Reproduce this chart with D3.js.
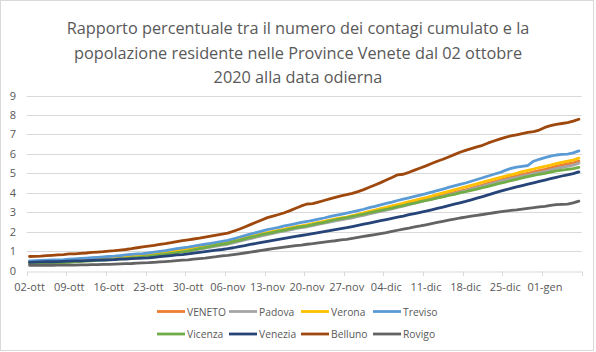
<!DOCTYPE html>
<html><head><meta charset="utf-8">
<script src="https://cdn.jsdelivr.net/npm/d3@7"></script>
<style>html,body{margin:0;padding:0;background:#fff}svg{display:block;font-family:"Open Sans",sans-serif}</style>
</head><body><svg id="c" width="596" height="352"></svg>
<script>
const titleLines = ["Rapporto percentuale tra il numero dei contagi cumulato e la","popolazione residente nelle Province Venete dal 02 ottobre","2020 alla data odierna"];
const startDate = "2020-10-02";
const nDays = 98;
const yTicks = [0,1,2,3,4,5,6,7,8,9];
const seriesNames = ["VENETO","Padova","Verona","Treviso","Vicenza","Venezia","Belluno","Rovigo"];
const seriesColors = ["#ED7D31","#A5A5A5","#FFC000","#5B9BD5","#70AD47","#264478","#9E480E","#636363"];

const veneto = [0.45,0.46,0.47,0.48,0.49,0.50,0.51, 0.52,0.53,0.55,0.57,0.58,0.60,0.62, 0.63,0.65,0.67,0.70,0.72,0.75,0.77, 0.80,0.83,0.87,0.91,0.95,0.99,1.02, 1.05,1.10,1.15,1.20,1.25,1.30,1.35, 1.40,1.47,1.55,1.62,1.70,1.77,1.84, 1.90,1.96,2.02,2.08,2.14,2.20,2.25, 2.30,2.36,2.42,2.48,2.54,2.60,2.65, 2.70,2.76,2.83,2.89,2.96,3.02,3.09, 3.15,3.22,3.29,3.36,3.44,3.51,3.58, 3.65,3.72,3.79,3.86,3.94,4.01,4.08, 4.15,4.23,4.31,4.39,4.48,4.56,4.64, 4.72,4.79,4.86,4.93,5.00,5.07,5.14, 5.20,5.28,5.35,5.42,5.48,5.54,5.62];
const padova = [0.42,0.43,0.44,0.45,0.46,0.47,0.48, 0.50,0.51,0.53,0.54,0.56,0.57,0.59, 0.60,0.62,0.64,0.67,0.69,0.71,0.74, 0.76,0.79,0.83,0.86,0.90,0.93,0.97, 1.00,1.05,1.10,1.15,1.20,1.25,1.30, 1.35,1.42,1.50,1.57,1.64,1.71,1.78, 1.85,1.91,1.97,2.03,2.09,2.15,2.20, 2.25,2.31,2.37,2.43,2.49,2.55,2.60, 2.65,2.71,2.78,2.84,2.91,2.97,3.04, 3.10,3.17,3.24,3.31,3.39,3.46,3.53, 3.60,3.67,3.74,3.81,3.89,3.96,4.03, 4.10,4.18,4.26,4.34,4.42,4.50,4.58, 4.65,4.72,4.78,4.85,4.91,4.98,5.04, 5.10,5.17,5.24,5.30,5.36,5.42,5.52];
const verona = [0.45,0.46,0.47,0.48,0.49,0.50,0.52, 0.55,0.57,0.59,0.61,0.63,0.66,0.68, 0.70,0.72,0.74,0.76,0.78,0.80,0.82, 0.85,0.88,0.92,0.96,1.00,1.04,1.08, 1.12,1.16,1.20,1.25,1.30,1.35,1.40, 1.45,1.52,1.59,1.66,1.74,1.81,1.88, 1.95,2.01,2.07,2.13,2.19,2.25,2.30, 2.35,2.41,2.47,2.53,2.59,2.65,2.70, 2.75,2.82,2.89,2.96,3.04,3.11,3.18, 3.25,3.32,3.39,3.46,3.54,3.61,3.68, 3.75,3.83,3.91,3.99,4.07,4.15,4.23, 4.30,4.38,4.46,4.54,4.62,4.70,4.78, 4.85,4.92,5.00,5.08,5.15,5.22,5.29, 5.35,5.42,5.50,5.56,5.62,5.68,5.78];
const treviso = [0.50,0.51,0.52,0.53,0.54,0.55,0.56, 0.58,0.60,0.62,0.64,0.66,0.68,0.70, 0.72,0.74,0.77,0.80,0.83,0.85,0.87, 0.90,0.94,0.98,1.02,1.07,1.12,1.16, 1.20,1.25,1.30,1.35,1.40,1.45,1.50, 1.55,1.63,1.71,1.79,1.87,1.95,2.03, 2.10,2.16,2.22,2.29,2.35,2.41,2.47, 2.52,2.58,2.64,2.70,2.77,2.83,2.89, 2.95,3.01,3.08,3.15,3.23,3.30,3.38, 3.45,3.52,3.60,3.67,3.74,3.81,3.88, 3.95,4.03,4.11,4.19,4.27,4.35,4.43, 4.50,4.59,4.68,4.77,4.86,4.95,5.03, 5.15,5.25,5.32,5.36,5.40,5.62,5.72, 5.80,5.88,5.94,5.97,5.99,6.05,6.15];
const vicenza = [0.35,0.36,0.37,0.38,0.39,0.40,0.41, 0.42,0.44,0.46,0.48,0.50,0.52,0.53, 0.55,0.57,0.60,0.62,0.65,0.67,0.70, 0.72,0.76,0.80,0.84,0.88,0.92,0.96, 1.00,1.06,1.12,1.18,1.24,1.30,1.35, 1.40,1.48,1.55,1.63,1.70,1.77,1.84, 1.90,1.96,2.02,2.08,2.14,2.20,2.25, 2.30,2.36,2.42,2.48,2.55,2.61,2.67, 2.72,2.78,2.84,2.90,2.97,3.03,3.09, 3.15,3.21,3.28,3.34,3.41,3.47,3.54, 3.60,3.66,3.73,3.79,3.86,3.92,3.99, 4.05,4.12,4.19,4.26,4.33,4.40,4.48, 4.55,4.62,4.69,4.76,4.83,4.89,4.95, 5.00,5.06,5.12,5.16,5.20,5.24,5.30];
const venezia = [0.42,0.43,0.44,0.45,0.45,0.46,0.47, 0.48,0.49,0.50,0.51,0.52,0.53,0.54, 0.55,0.56,0.58,0.59,0.61,0.62,0.64, 0.65,0.68,0.71,0.74,0.77,0.80,0.82, 0.85,0.89,0.93,0.97,1.01,1.05,1.08, 1.12,1.17,1.23,1.28,1.34,1.39,1.45, 1.50,1.55,1.60,1.65,1.70,1.75,1.80, 1.85,1.90,1.95,2.00,2.05,2.10,2.15, 2.20,2.26,2.32,2.38,2.44,2.50,2.56, 2.62,2.68,2.74,2.80,2.87,2.93,2.99, 3.05,3.12,3.19,3.26,3.34,3.41,3.48, 3.55,3.63,3.72,3.80,3.89,3.98,4.07, 4.15,4.22,4.30,4.37,4.44,4.51,4.58, 4.65,4.72,4.79,4.86,4.92,4.98,5.07];
const belluno = [0.72,0.73,0.74,0.76,0.78,0.80,0.82, 0.85,0.86,0.88,0.90,0.93,0.95,0.97, 1.00,1.02,1.05,1.08,1.12,1.17,1.21, 1.25,1.29,1.34,1.38,1.43,1.49,1.54, 1.58,1.62,1.66,1.72,1.77,1.82,1.87, 1.92,2.02,2.12,2.24,2.36,2.48,2.60, 2.72,2.80,2.88,2.97,3.08,3.20,3.32, 3.42,3.44,3.52,3.60,3.68,3.76,3.84, 3.90,3.97,4.06,4.16,4.28,4.40,4.52, 4.65,4.78,4.92,4.95,5.05,5.16,5.27, 5.38,5.50,5.62,5.72,5.84,5.96,6.08, 6.18,6.27,6.36,6.44,6.56,6.66,6.76, 6.85,6.92,6.98,7.04,7.10,7.14,7.22, 7.36,7.45,7.52,7.56,7.60,7.68,7.78];
const rovigo = [0.27,0.27,0.27,0.27,0.27,0.28,0.28, 0.28,0.28,0.29,0.29,0.30,0.30,0.31, 0.32,0.33,0.34,0.35,0.36,0.38,0.39, 0.40,0.42,0.44,0.46,0.48,0.51,0.53, 0.55,0.58,0.61,0.64,0.68,0.71,0.75, 0.78,0.82,0.86,0.90,0.95,0.99,1.04, 1.08,1.12,1.16,1.20,1.24,1.28,1.31, 1.35,1.38,1.42,1.46,1.50,1.53,1.57, 1.60,1.65,1.70,1.75,1.80,1.85,1.90, 1.95,2.01,2.07,2.13,2.18,2.24,2.29, 2.35,2.41,2.47,2.53,2.59,2.64,2.70, 2.75,2.80,2.84,2.88,2.93,2.97,3.01, 3.05,3.09,3.12,3.16,3.20,3.23,3.27, 3.30,3.35,3.39,3.40,3.41,3.48,3.57];
const seriesValues = [veneto,padova,verona,treviso,vicenza,venezia,belluno,rovigo];

const mesi = ["gen","feb","mar","apr","mag","giu","lug","ago","set","ott","nov","dic"];
const d0 = new Date(startDate + "T12:00:00");
const dates = d3.range(nDays).map(i => { const d = new Date(d0); d.setDate(d.getDate()+i); return d; });
const fmt = d => String(d.getDate()).padStart(2,"0") + "-" + mesi[d.getMonth()];
const cats = dates.map(fmt);

const svg = d3.select("#c");
svg.append("rect").attr("x",0.5).attr("y",0.5).attr("width",593).attr("height",350)
  .attr("fill","#fff").attr("stroke","#d9d9d9");

const pL = 26.7, pR = 581.7, pT = 95.5, pB = 270.5;
const x = d3.scaleBand().domain(cats).range([pL,pR]).padding(0);
const y = d3.scaleLinear().domain([0,9]).range([pB,pT]);
const txt = "#595959";

// title
const title = svg.append("g");
titleLines.forEach((t,i) => {
  title.append("text").attr("x",298).attr("y",34 + i*24.5).attr("text-anchor","middle")
    .attr("fill",txt).attr("font-size",16.3).text(t);
});

// grid
svg.append("g").selectAll("line").data(yTicks.filter(v=>v>0)).join("line")
  .attr("x1",pL).attr("x2",pR).attr("y1",d=>Math.round(y(d))+0.5).attr("y2",d=>Math.round(y(d))+0.5)
  .attr("stroke","#d9d9d9").attr("stroke-width",1);

// y labels
const ya = svg.append("g").attr("transform","translate(16,0)")
  .call(d3.axisLeft(y).tickValues(yTicks).tickSize(0).tickPadding(0));
ya.select(".domain").remove();
ya.selectAll("text").attr("fill",txt).attr("font-size",11).attr("font-family","Open Sans");

// x axis
const tickCats = cats.filter((c,i)=>i%7===0);
const xa = svg.append("g").attr("transform",`translate(0,${Math.round(pB)+0.5})`)
  .call(d3.axisBottom(x).tickValues(tickCats).tickSize(0).tickPadding(12));
xa.select(".domain").attr("stroke","#d9d9d9");
xa.selectAll("text").attr("fill",txt).attr("font-size",11).attr("font-family","Open Sans");
const tickPos = tickCats.map(c=>x(c)).concat([pR]);
svg.append("g").selectAll("line").data(tickPos).join("line")
  .attr("x1",d=>Math.round(d)+0.5).attr("x2",d=>Math.round(d)+0.5)
  .attr("y1",Math.round(pB)+0.5).attr("y2",Math.round(pB)+5)
  .attr("stroke","#d9d9d9");

// lines
const line = d3.line().x((d,i)=>x(cats[i])+x.bandwidth()/2).y(d=>y(d));
svg.append("g").selectAll("path").data(seriesValues).join("path")
  .attr("d",line).attr("fill","none")
  .attr("stroke",(d,i)=>seriesColors[i]).attr("stroke-width",2.8)
  .attr("stroke-linejoin","round").attr("stroke-linecap","round");

// legend
const lg = svg.append("g");
seriesNames.forEach((n,i) => {
  const col = i%4, row = Math.floor(i/4);
  const lx = 157 + col*72, ly = 311.5 + row*22.5;
  lg.append("line").attr("x1",lx).attr("x2",lx+28).attr("y1",ly).attr("y2",ly)
    .attr("stroke",seriesColors[i]).attr("stroke-width",2.8);
  lg.append("text").attr("x",lx+30).attr("y",ly+4).attr("fill",txt)
    .attr("font-size",10.3).text(n);
});
</script></body></html>
